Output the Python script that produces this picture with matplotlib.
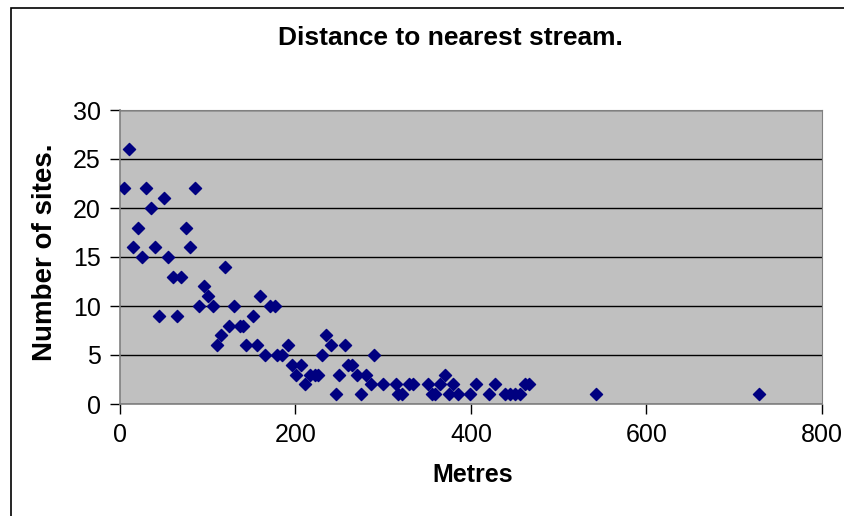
import numpy as np
import matplotlib.pyplot as plt
from matplotlib.patches import Rectangle

plt.rcParams['font.family'] = ['Liberation Sans', 'DejaVu Sans']

# distance to nearest stream (m) and number of sites
metres = np.array([
    5, 10, 15, 20, 25, 30, 35, 40, 45, 50, 55, 60, 65, 70, 75, 80, 85,
    90, 96, 100, 106, 110, 115, 120, 124, 130, 137, 140, 144, 151, 156, 160,
    165, 171, 177, 179, 185, 191, 196, 201, 206, 211, 216, 222, 226, 230, 235,
    240, 246, 250, 256, 260, 264, 270, 275, 280, 286, 290, 300, 314, 317, 321,
    329, 334, 351, 355, 359, 365, 370, 375, 380, 385, 399, 406, 420, 427, 439,
    444, 450, 456, 462, 466, 542, 728])
sites = np.array([
    22, 26, 16, 18, 15, 22, 20, 16, 9, 21, 15, 13, 9, 13, 18, 16, 22,
    10, 12, 11, 10, 6, 7, 14, 8, 10, 8, 8, 6, 9, 6, 11,
    5, 10, 10, 5, 5, 6, 4, 3, 4, 2, 3, 3, 3, 5, 7,
    6, 1, 3, 6, 4, 4, 3, 1, 3, 2, 5, 2, 2, 1, 1,
    2, 2, 2, 1, 1, 2, 3, 1, 2, 1, 1, 2, 1, 2, 1,
    1, 1, 1, 2, 2, 1, 1])

fig = plt.figure(figsize=(8.45, 5.16), dpi=100)
ax = fig.add_axes([120/845, 1 - 404/516, 702/845, 294/516])

# outer chart frame
fig.patches.append(Rectangle((11/845, -0.1), 1.1, 1 - 8/516 + 0.1,
                             transform=fig.transFigure, fill=False,
                             edgecolor='black', linewidth=1.2))

ax.set_facecolor('#c0c0c0')
ax.scatter(metres, sites, marker='D', s=38, color='#000080', zorder=3)

ax.set_xlim(0, 800)
ax.set_ylim(0, 30)
ax.set_xticks([0, 200, 400, 600, 800])
ax.set_yticks([0, 5, 10, 15, 20, 25, 30])
ax.yaxis.grid(True, color='black', linewidth=1)
ax.set_axisbelow(True)
ax.tick_params(labelsize=18, length=7, width=1, direction='out')
ax.tick_params(axis='x', pad=7)
ax.tick_params(axis='y', pad=7)

for s in ['top', 'right']:
    ax.spines[s].set_color('#808080')
for s in ['left', 'bottom']:
    ax.spines[s].set_color('#808080')
    ax.spines[s].set_linewidth(1.2)

fig.text(450/845, 1 - 38/516, 'Distance to nearest stream.', fontsize=19,
         fontweight='bold', ha='center', va='center')
fig.text(473/845, 1 - 475/516, 'Metres', fontsize=18,
         fontweight='bold', ha='center', va='center')
fig.text(45/845, 1 - 252/516, 'Number of sites.', fontsize=20,
         fontweight='bold', ha='center', va='center', rotation=90)

fig.savefig('out.png', dpi=100)
